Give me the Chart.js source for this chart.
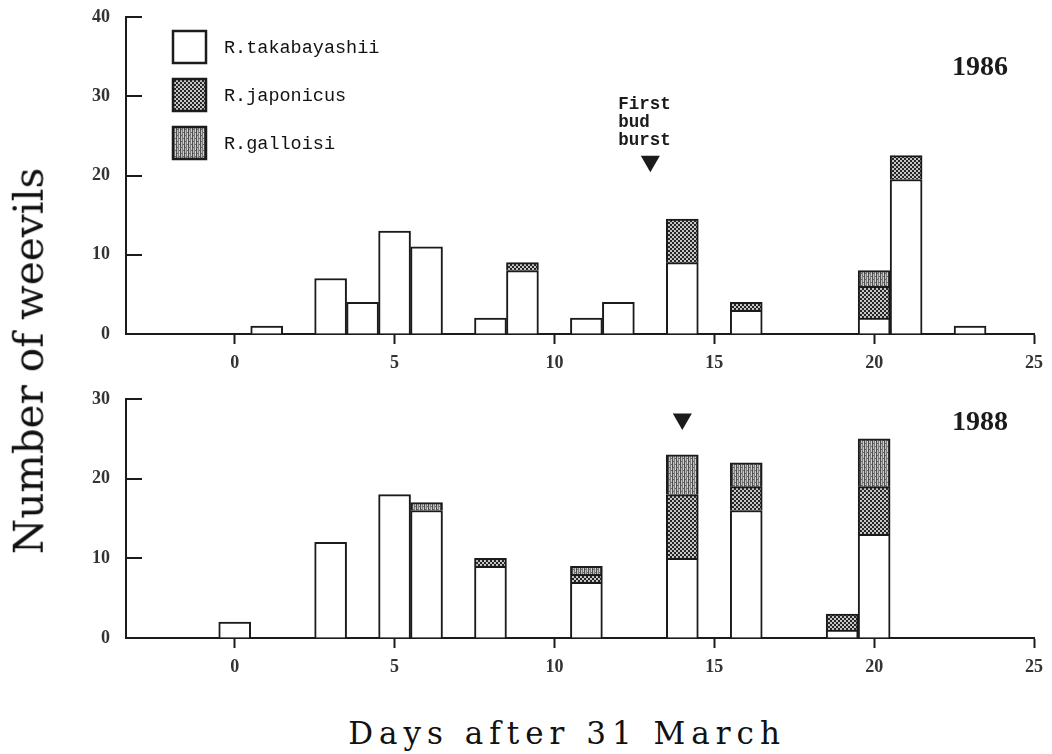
<!DOCTYPE html>
<html>
<head>
<meta charset="utf-8">
<title>Number of weevils</title>
<script src="https://cdn.jsdelivr.net/npm/chart.js@4.4.1/dist/chart.umd.min.js"></script>
<style>
  html, body { margin: 0; padding: 0; background: #ffffff; }
  #wrap { position: relative; width: 1052px; height: 754px; overflow: hidden; background: #ffffff; }
  #c1986 { position: absolute; left: 0; top: 0; }
  #c1988 { position: absolute; left: 0; top: 380px; }
  .ytitle {
    position: absolute; left: 29px; top: 361px;
    transform: translate(-50%, -50%) rotate(-90deg);
    font: 40.5px "DejaVu Serif"; color: #111; white-space: nowrap; line-height: 1;
  }
  .xtitle {
    position: absolute; left: 567px; top: 733px;
    transform: translate(-50%, -50%);
    font: 31px "DejaVu Serif"; letter-spacing: 6px; color: #111; white-space: nowrap; line-height: 1;
  }
</style>
</head>
<body>
<div id="wrap">
  <canvas id="c1986" width="1052" height="380"></canvas>
  <canvas id="c1988" width="1052" height="310"></canvas>
  <div class="ytitle">Number of weevils</div>
  <div class="xtitle">Days after 31 March</div>
</div>
<script>
// ---- data ----------------------------------------------------------------
const species = ['R.takabayashii', 'R.japonicus', 'R.galloisi'];

const days1986 = [1, 3, 4, 5, 6, 8, 9, 11, 12, 14, 16, 20, 21, 23];
const takabayashii1986 = [1, 7, 4, 13, 11, 2, 8, 2, 4, 9, 3, 2, 19.5, 1];
const japonicus1986    = [0, 0, 0, 0, 0, 0, 1, 0, 0, 5.5, 1, 4, 3, 0];
const galloisi1986     = [0, 0, 0, 0, 0, 0, 0, 0, 0, 0, 0, 2, 0, 0];

const days1988 = [0, 3, 5, 6, 8, 11, 14, 16, 19, 20];
const takabayashii1988 = [2, 12, 18, 16, 9, 7, 10, 16, 1, 13];
const japonicus1988    = [0, 0, 0, 0, 1, 1, 8, 3, 2, 6];
const galloisi1988     = [0, 0, 0, 1, 0, 1, 5, 3, 0, 6];

const budBurstDay1986 = 13;
const budBurstDay1988 = 14;

const xTickValues = [0, 5, 10, 15, 20, 25];
const yTickValues1986 = [0, 10, 20, 30, 40];
const yTickValues1988 = [0, 10, 20, 30];

// ---- styling -------------------------------------------------------------
const INK = '#1b1b1b';
const tickFont = { family: '"Liberation Serif"', size: 18, weight: 'bold' };

function makeFills(ctx) {
  const tile = (w, h, paint) => {
    const c = document.createElement('canvas');
    c.width = w; c.height = h;
    paint(c.getContext('2d'));
    return ctx.createPattern(c, 'repeat');
  };
  // fine dark checker
  const japonicus = tile(4, 4, g => {
    g.fillStyle = '#262626'; g.fillRect(0, 0, 4, 4);
    g.fillStyle = '#c6c6c6'; g.fillRect(0, 0, 2, 2); g.fillRect(2, 2, 2, 2);
  });
  // lighter vertical streaks
  const galloisi = tile(4, 6, g => {
    ['#4e4e4e', '#bdbdbd', '#7c7c7c', '#cfcfcf'].forEach((c, i) => {
      g.fillStyle = c; g.fillRect(i, 0, 1, 6);
    });
    g.fillStyle = '#666'; g.fillRect(1, 3, 1, 1); g.fillRect(3, 0, 1, 1);
  });
  return ['#ffffff', japonicus, galloisi];
}

function segment(label, days, values, fill) {
  return {
    type: 'bar',
    label,
    data: days.map((d, i) => (values[i] ? { x: d, y: values[i] } : null)).filter(Boolean),
    backgroundColor: fill,
    borderColor: INK,
    borderWidth: { top: 2, left: 2, right: 2, bottom: 0 },
    borderSkipped: 'start',
    categoryPercentage: 1,
    barPercentage: 1,
  };
}

// inward y ticks, year label, legend and bud-burst caption
const decorPlugin = {
  id: 'decor',
  afterDraw(chart, args, opts) {
    const { ctx, chartArea, scales: { x, y } } = chart;
    ctx.save();
    ctx.strokeStyle = INK;
    ctx.lineWidth = 2;
    y.ticks.forEach(t => {
      const py = Math.round(y.getPixelForValue(t.value));
      ctx.beginPath();
      ctx.moveTo(chartArea.left, py);
      ctx.lineTo(chartArea.left + 16, py);
      ctx.stroke();
    });

    ctx.fillStyle = INK;
    ctx.textBaseline = 'alphabetic';
    ctx.textAlign = 'left';
    ctx.font = 'bold 28px "Liberation Serif"';
    ctx.fillText(opts.year, opts.yearX, opts.yearY);

    if (opts.caption) {
      const px = x.getPixelForValue(opts.captionDay);
      ctx.font = 'bold 17.5px "Liberation Mono"';
      opts.caption.forEach((line, i) => ctx.fillText(line, px - 32, opts.captionY + i * 18));
    }

    if (opts.legend) {
      const fills = chart.data.datasets.filter(d => d.type === 'bar').map(d => d.backgroundColor);
      ctx.font = '18.5px "Liberation Mono"';
      ctx.textBaseline = 'middle';
      species.forEach((name, i) => {
        const bx = 173, by = 31 + i * 48, bw = 33, bh = 32;
        ctx.fillStyle = fills[i];
        ctx.fillRect(bx, by, bw, bh);
        ctx.lineWidth = 2.5;
        ctx.strokeStyle = INK;
        ctx.strokeRect(bx, by, bw, bh);
        ctx.fillStyle = '#111';
        ctx.fillText(name, 224, by + bh / 2 + 1);
      });
    }
    ctx.restore();
  }
};

function buildChart(canvas, cfg) {
  const ctx = canvas.getContext('2d');
  const fills = makeFills(ctx);
  const datasets = [
    segment(species[0], cfg.days, cfg.takabayashii, fills[0]),
    segment(species[1], cfg.days, cfg.japonicus, fills[1]),
    segment(species[2], cfg.days, cfg.galloisi, fills[2]),
    {
      type: 'scatter',
      label: 'First bud burst',
      data: [{ x: cfg.budDay, y: cfg.markerLevel }],
      stack: 'marker',
      pointStyle: 'triangle',
      pointRotation: 180,
      pointRadius: 11,
      pointHoverRadius: 11,
      pointBackgroundColor: INK,
      pointBorderColor: INK,
      pointBorderWidth: 0,
      showLine: false,
    },
  ];
  return new Chart(ctx, {
    data: { datasets },
    plugins: [decorPlugin],
    options: {
      responsive: false,
      animation: false,
      events: [],
      layout: { padding: { top: cfg.padTop, right: 15, bottom: 0, left: 0 } },
      plugins: {
        legend: { display: false },
        tooltip: { enabled: false },
        decor: cfg.decor,
      },
      scales: {
        x: {
          type: 'linear',
          min: -3.4,
          max: 25,
          offset: false,
          stacked: true,
          z: 1,
          afterBuildTicks: s => { s.ticks = xTickValues.map(v => ({ value: v })); },
          afterFit: s => { s.height = cfg.xAxisHeight; },
          grid: { display: true, offset: false, drawOnChartArea: false, drawTicks: true, tickLength: 10, tickWidth: 2, tickColor: INK },
          border: { display: true, color: INK, width: 2 },
          ticks: { font: tickFont, color: '#333', padding: 9, maxRotation: 0, autoSkip: false },
        },
        y: {
          type: 'linear',
          min: 0,
          max: cfg.yMax,
          stacked: true,
          z: 1,
          afterBuildTicks: s => { s.ticks = cfg.yTicks.map(v => ({ value: v })); },
          afterFit: s => { s.width = 126; s.paddingTop = 0; s.paddingBottom = 0; },
          grid: { display: true, drawOnChartArea: false, drawTicks: false },
          border: { display: true, color: INK, width: 2 },
          ticks: { font: tickFont, color: '#333', padding: 16 },
        },
      },
    },
  });
}

buildChart(document.getElementById('c1986'), {
  days: days1986,
  takabayashii: takabayashii1986,
  japonicus: japonicus1986,
  galloisi: galloisi1986,
  budDay: budBurstDay1986,
  markerLevel: 21.8,
  yMax: 40,
  yTicks: yTickValues1986,
  padTop: 17,
  xAxisHeight: 46,
  decor: {
    year: '1986', yearX: 952, yearY: 75,
    caption: ['First', 'bud', 'burst'], captionDay: budBurstDay1986, captionY: 109,
    legend: true,
  },
});

buildChart(document.getElementById('c1988'), {
  days: days1988,
  takabayashii: takabayashii1988,
  japonicus: japonicus1988,
  galloisi: galloisi1988,
  budDay: budBurstDay1988,
  markerLevel: 27.5,
  yMax: 30,
  yTicks: yTickValues1988,
  padTop: 19,
  xAxisHeight: 52,
  decor: { year: '1988', yearX: 952, yearY: 50, legend: false },
});
</script>
</body>
</html>
